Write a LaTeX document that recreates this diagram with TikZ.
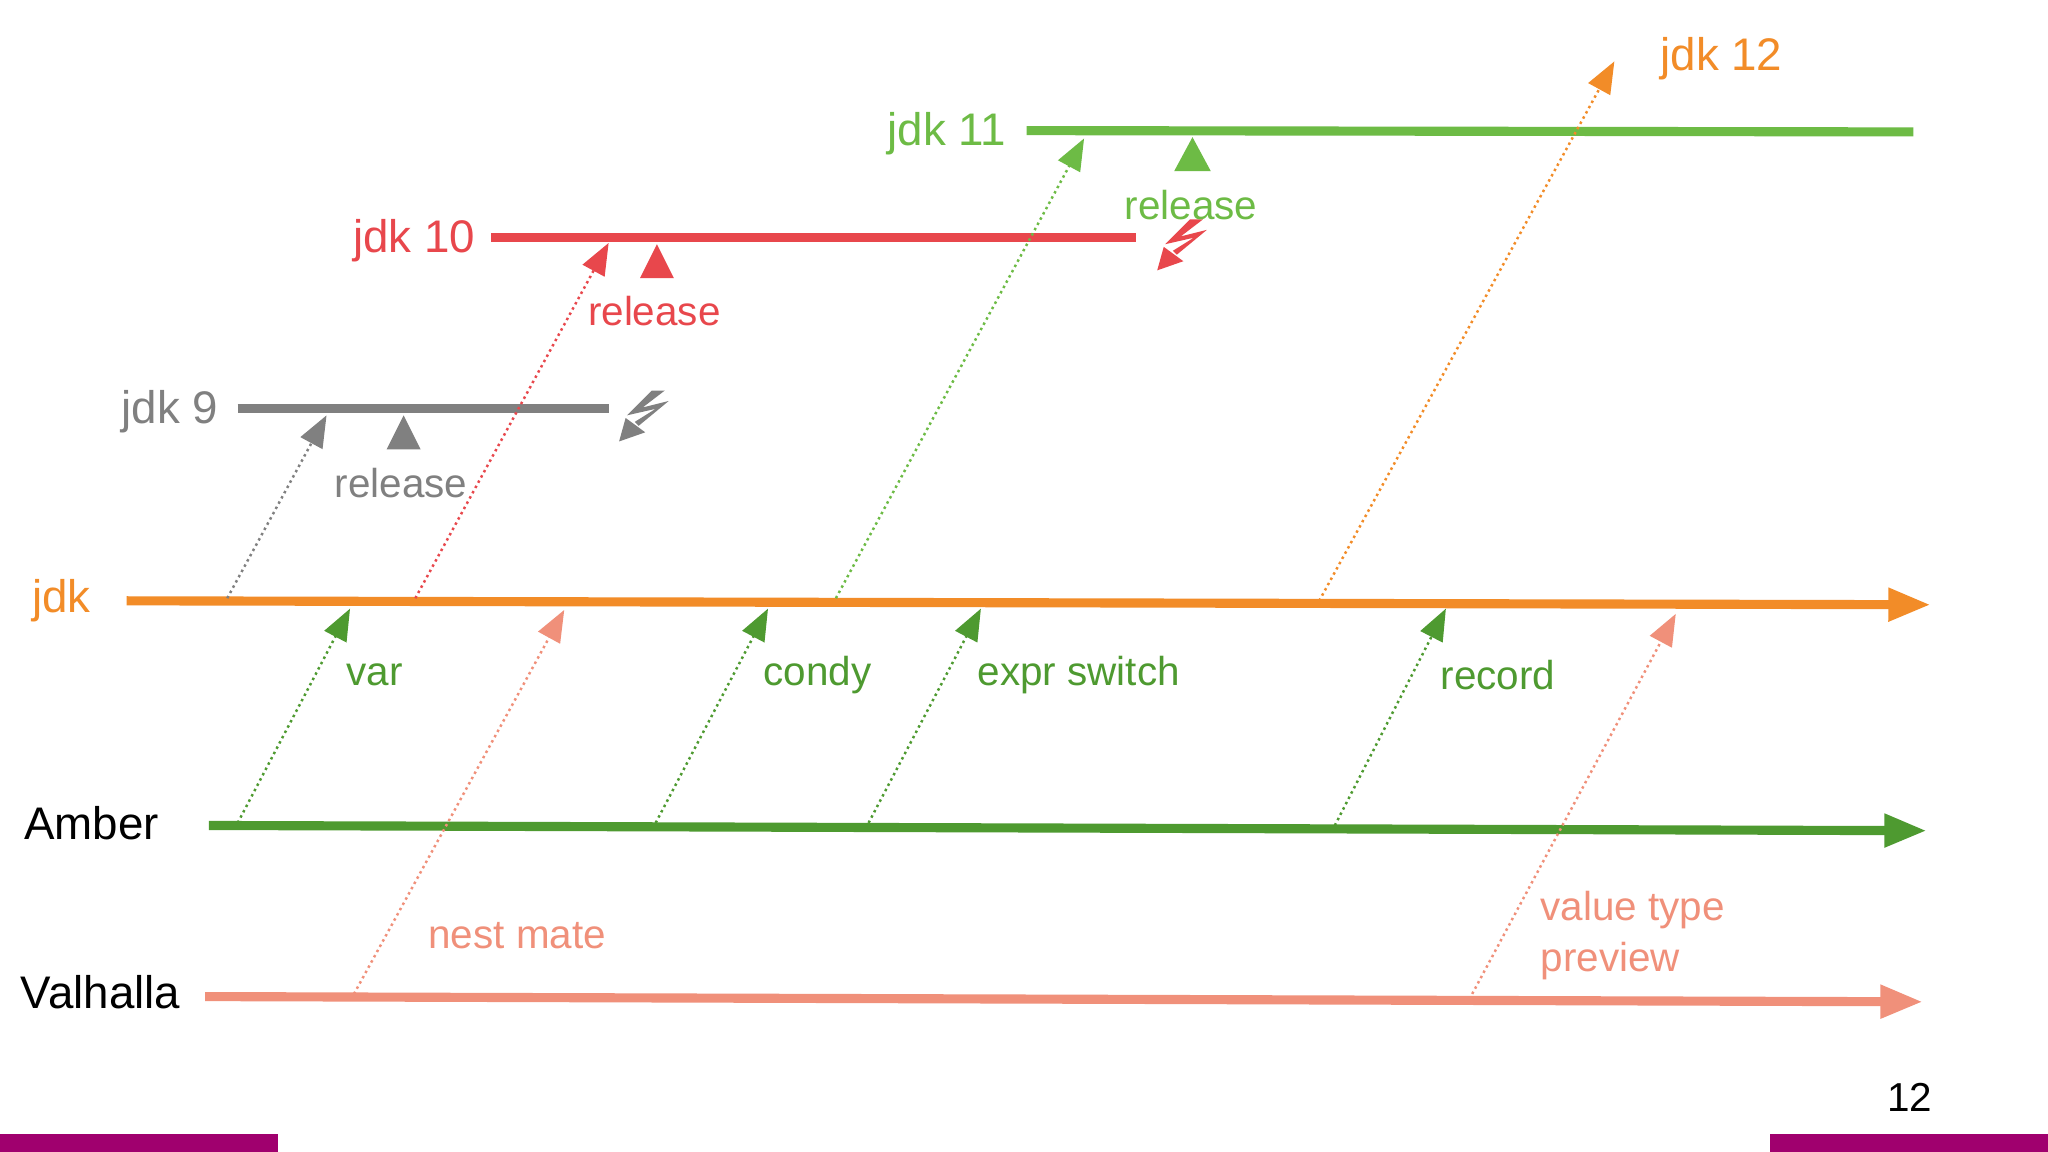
\documentclass[tikz,border=0pt]{standalone}
\usepackage{fontspec}
\setmainfont{Liberation Sans}
\usetikzlibrary{arrows.meta}
\definecolor{cor}{HTML}{F28C28}
\definecolor{cam}{HTML}{4E9A30}
\definecolor{cva}{HTML}{F0907A}
\definecolor{cgr}{HTML}{808080}
\definecolor{cre}{HTML}{E8474C}
\definecolor{cgn}{HTML}{6DBB45}
\definecolor{cmg}{HTML}{A0006E}
\tikzset{
 main/.style={line width=2.6pt,-{Triangle[length=12pt,width=9pt]}},
 ver/.style={line width=2.6pt},
 dot/.style={densely dotted,line width=0.7pt,-{Triangle[length=9pt,width=7pt]}},
 lbl/.style={font=\fontsize{11.5}{13}\selectfont,inner sep=0pt},
 big/.style={font=\fontsize{13}{15}\selectfont,inner sep=0pt}
}
\newcommand{\mybolt}[1]{%
 \fill[#1] (499,299) -- (509,299) -- (492,312) -- (512,307) -- (489,326) -- (486,323) -- (502,313) -- (480,318) -- cycle;
 \fill[#1] (474,338) -- (479,320) -- (494,331) -- cycle;}
\begin{document}
\begin{tikzpicture}[x=0.013061cm,y=-0.013061cm]
\useasboundingbox[fill=white] (0,0) rectangle (1568,882);
\fill[cmg] (0,868) rectangle (213,882);
\fill[cmg] (1355,868) rectangle (1568,882);
\node[lbl] (pg) at (1462,840) {12};
% main lines
\coordinate (jA) at (97,460); \coordinate (jB) at (1478,463);
\draw[main,cor] (jA) -- (jB);
\node[big,cor] (jl) at (47,460) {jdk};
\coordinate (aA) at (160,632); \coordinate (aB) at (1475,636);
\draw[main,cam] (aA) -- (aB);
\node[big] (al) at (70,630) {Amber};
\coordinate (vA) at (157,763); \coordinate (vB) at (1472,767);
\draw[main,cva] (vA) -- (vB);
\node[big] (vl) at (77,760) {Valhalla};
% jdk 9
\coordinate (n9A) at (182,313); \coordinate (n9B) at (466,313);
\draw[ver,cgr] (n9A) -- (n9B);
\node[big,cgr] (l9) at (130,315) {jdk 9};
\fill[cgr] (296,344) -- (322,344) -- (309,318) -- cycle;
\node[lbl,cgr] (r9) at (307,370) {release};
\mybolt{cgr}
% jdk 10
\coordinate (n10A) at (376,182); \coordinate (n10B) at (870,182);
\draw[ver,cre] (n10A) -- (n10B);
\node[big,cre] (l10) at (317,184) {jdk 10};
\fill[cre] (490,213) -- (516,213) -- (503,187) -- cycle;
\node[lbl,cre] (r10) at (501,238) {release};
\begin{scope}[shift={(412,-131)}]\mybolt{cre}\end{scope}
% jdk 11
\coordinate (n11A) at (786,100); \coordinate (n11B) at (1465,101);
\draw[ver,cgn] (n11A) -- (n11B);
\node[big,cgn] (l11) at (725,102) {jdk 11};
\fill[cgn] (899,131) -- (927,131) -- (913,105) -- cycle;
\node[lbl,cgn] (r11) at (912,157) {release};
\node[big,cor] (l12) at (1318,45) {jdk 12};
% releases from jdk
\coordinate (p9) at (174,458); \coordinate (q9) at (250,318);
\draw[dot,cgr] (p9) -- (q9);
\coordinate (p10) at (318,458); \coordinate (q10) at (466,186);
\draw[dot,cre] (p10) -- (q10);
\coordinate (p11) at (640,458); \coordinate (q11) at (830,106);
\draw[dot,cgn] (p11) -- (q11);
\coordinate (p12) at (1010,460); \coordinate (q12) at (1236,47);
\draw[dot,cor] (p12) -- (q12);
% amber
\coordinate (a1) at (182,630); \coordinate (b1) at (268,466);
\draw[dot,cam] (a1) -- (b1);
\node[lbl,cam] (t1) at (287,517) {var};
\coordinate (a2) at (502,630); \coordinate (b2) at (588,466);
\draw[dot,cam] (a2) -- (b2);
\node[lbl,cam] (t2) at (626,517) {condy};
\coordinate (a3) at (665,630); \coordinate (b3) at (751,466);
\draw[dot,cam] (a3) -- (b3);
\node[lbl,cam] (t3) at (826,517) {expr switch};
\coordinate (a4) at (1022,632); \coordinate (b4) at (1107,466);
\draw[dot,cam] (a4) -- (b4);
\node[lbl,cam] (t4) at (1147,517) {record};
% valhalla
\coordinate (c1) at (271,761); \coordinate (d1) at (432,467);
\draw[dot,cva] (c1) -- (d1);
\node[lbl,cva] (u1) at (396,716) {nest mate};
\coordinate (c2) at (1125,765); \coordinate (d2) at (1283,470);
\draw[dot,cva] (c2) -- (d2);
\node[lbl,cva,align=left,anchor=west,font=\fontsize{11.5}{14.5}\selectfont] (u2) at (1179,716) {value type\\preview};
\end{tikzpicture}
\end{document}
